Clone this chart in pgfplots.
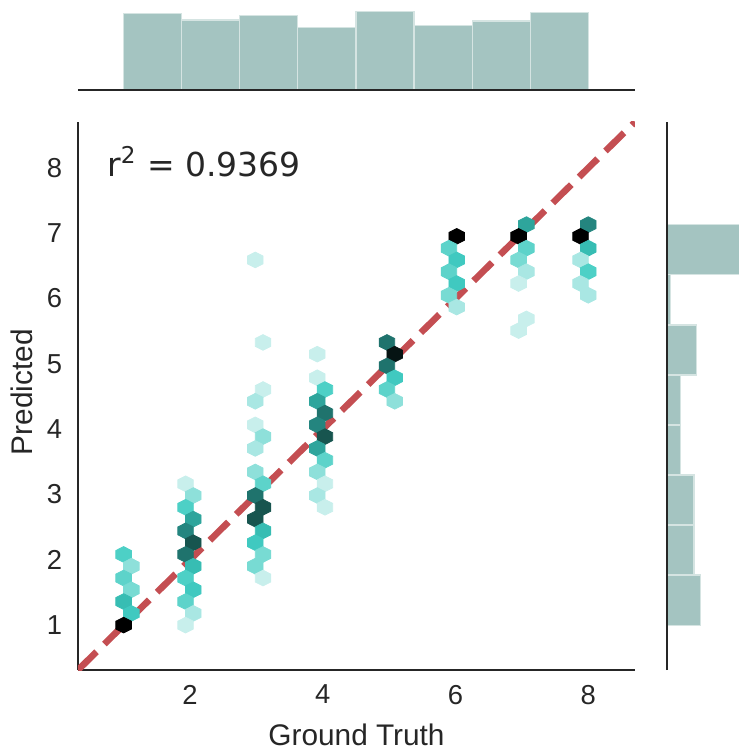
\documentclass[border=0pt]{standalone}
\usepackage{pgfplots}
\pgfplotsset{compat=1.18}
\usepackage{fontspec}
\setmainfont{Liberation Sans}
\newfontfamily\dejavu{DejaVu Sans}
\definecolor{txt}{HTML}{262626}
\definecolor{histc}{HTML}{A4C4C1}
\definecolor{histe}{HTML}{D5E4E2}
\definecolor{redl}{HTML}{C44E52}
\pgfdeclareplotmark{hexa}{%
 \pgfpathmoveto{\pgfqpoint{0pt}{3.925pt}}%
 \pgfpathlineto{\pgfqpoint{3.875pt}{1.9625pt}}%
 \pgfpathlineto{\pgfqpoint{3.875pt}{-1.9625pt}}%
 \pgfpathlineto{\pgfqpoint{0pt}{-3.925pt}}%
 \pgfpathlineto{\pgfqpoint{-3.875pt}{-1.9625pt}}%
 \pgfpathlineto{\pgfqpoint{-3.875pt}{1.9625pt}}%
 \pgfpathclose
 \pgfusepathqfillstroke}
\pgfplotsset{colormap={hexmap}{rgb255=(200,239,236) rgb255=(169,231,227) rgb255=(142,224,218) rgb255=(120,219,211) rgb255=(93,211,202) rgb255=(77,208,198) rgb255=(64,201,192) rgb255=(55,189,179) rgb255=(46,165,156) rgb255=(36,133,127) rgb255=(31,115,109) rgb255=(23,85,79) rgb255=(6,20,19) rgb255=(0,0,0)}}

\pgfplotstableread{
x y c
1.000 2.082 5
1.117 1.902 2
1.000 1.721 4
1.117 1.541 3
1.000 1.361 7
1.117 1.180 6
1.000 1.000 13
1.933 3.164 0
2.050 2.984 2
1.933 2.804 5
2.050 2.623 8
1.933 2.443 9
2.050 2.262 11
1.933 2.082 10
2.050 1.902 7
1.933 1.721 5
2.050 1.541 6
1.933 1.361 4
2.050 1.180 1
1.933 1.000 0
2.983 6.591 0
3.100 5.328 0
3.100 4.607 0
2.983 4.427 1
2.983 4.066 0
3.100 3.886 2
2.983 3.705 1
2.983 3.345 2
3.100 3.164 4
2.983 2.984 10
3.100 2.804 11
2.983 2.623 11
3.100 2.443 7
2.983 2.262 6
3.100 2.082 3
2.983 1.902 3
3.100 1.721 0
3.917 5.148 0
3.917 4.787 0
4.033 4.607 5
3.917 4.427 8
4.033 4.246 10
3.917 4.066 9
4.033 3.886 11
3.917 3.705 8
4.033 3.525 4
3.917 3.345 2
4.033 3.164 0
3.917 2.984 1
4.033 2.804 0
4.967 5.328 10
5.083 5.148 12
4.967 4.968 10
5.083 4.787 6
4.967 4.607 4
5.083 4.427 2
6.017 6.952 13
5.900 6.771 4
6.017 6.591 6
5.900 6.411 4
6.017 6.230 6
5.900 6.050 3
6.017 5.869 1
7.067 7.132 8
6.950 6.952 13
7.067 6.771 4
6.950 6.591 3
7.067 6.411 1
6.950 6.230 0
7.067 5.689 0
6.950 5.509 0
8.000 7.132 9
7.883 6.952 13
8.000 6.771 7
7.883 6.591 1
8.000 6.411 5
7.883 6.230 1
8.000 6.050 1
}\hexdata

\begin{document}
\begin{tikzpicture}
\useasboundingbox (-39pt,-40.5pt) rectangle (330.5pt,335pt);
\begin{axis}[at={(0pt,0pt)}, anchor=south west, scale only axis,
  width=278.5pt, height=274pt,
  xmin=0.313, xmax=8.703, ymin=0.313, ymax=8.703,
  axis x line*=bottom, axis y line*=left,
  axis line style={draw=txt, line width=1.2pt, -},
  xtick={2,4,6,8}, ytick={1,2,3,4,5,6,7,8},
  major tick length=0pt,
  tick label style={font=\fontsize{13.7}{16}\selectfont, text=txt},
  /pgf/number format/assume math mode=true,
  xticklabel style={yshift=-4pt},
  yticklabel style={xshift=-4.4pt},
  xlabel={Ground Truth}, ylabel={Predicted},
  label style={font=\fontsize{14.9}{18}\selectfont, text=txt},
  xlabel style={at={(axis description cs:0.5,-0.1186)}, anchor=center},
  ylabel style={at={(axis description cs:-0.1005,0.507)}, anchor=center},
  colormap name=hexmap, point meta min=0, point meta max=13,
]
\addplot[scatter, only marks, mark=hexa, point meta=explicit,
  mark options={line width=0.4pt},
  scatter/use mapped color={draw=mapped color, fill=mapped color}]
  table[x=x, y=y, meta=c] {\hexdata};
\addplot[redl, line width=3.3pt, dash pattern=on 13pt off 5.5pt] coordinates {(0.313,0.313) (8.703,8.703)};
\node[anchor=base west, inner sep=0pt, text=txt, font=\dejavu\fontsize{16.5}{20}\selectfont] at (rel axis cs:0.052,0.901) {r\textsuperscript{2} = 0.9369};
\end{axis}

\begin{axis}[at={(0pt,290pt)}, anchor=south west, scale only axis,
  width=278.5pt, height=41.3pt,
  xmin=0.313, xmax=8.703, ymin=0, ymax=82.6,
  axis x line*=bottom, axis y line=none,
  axis line style={draw=txt, line width=1.2pt, -},
  xtick=\empty, ytick=\empty, axis on top]
\addplot[ybar interval, fill=histc, draw=histe, line width=0.6pt] coordinates {(1,76.7) (1.875,70) (2.75,74.7) (3.625,62.7) (4.5,78.7) (5.375,64.3) (6.25,69) (7.125,77.7) (8,77.7)};
\end{axis}

\begin{axis}[at={(294.5pt,0pt)}, anchor=south west, scale only axis,
  width=36pt, height=274pt,
  xmin=0, xmax=72, ymin=0.313, ymax=8.703,
  axis y line*=left, axis x line=none,
  axis line style={draw=txt, line width=1.2pt, -},
  xtick=\empty, ytick=\empty, axis on top]
\addplot[xbar interval, fill=histc, draw=histe, line width=0.6pt] coordinates {(33.4,1.0) (27,1.766) (27,2.532) (13.4,3.298) (13.4,4.064) (29.4,4.83) (3.7,5.596) (80,6.362) (80,7.128)};
\end{axis}
\end{tikzpicture}
\end{document}
